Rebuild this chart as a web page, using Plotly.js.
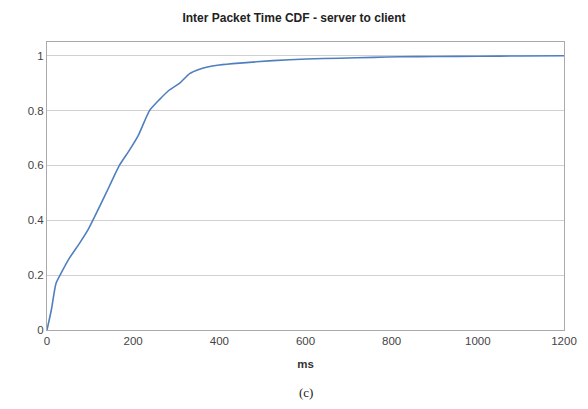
<!DOCTYPE html>
<html><head><meta charset="utf-8">
<script src="https://cdn.plot.ly/plotly-3.0.1.min.js"></script>
<style>html,body{margin:0;padding:0;background:#fff;}#chart{width:588px;height:409px;}</style>
</head><body><div id="chart"></div>
<script>
const chartTitle = "Inter Packet Time CDF - server to client";
const xTitle = "ms";
const caption = "(c)";
const msValues = [0, 10, 21, 33, 52, 75, 95, 122, 145, 168, 191, 212, 238, 261, 284, 308, 331, 354, 370, 400, 447, 524, 603, 680, 758, 819, 900, 1000, 1100, 1200];
const cdfValues = [0, 0.073, 0.17, 0.208, 0.262, 0.315, 0.365, 0.45, 0.525, 0.60, 0.655, 0.71, 0.80, 0.84, 0.875, 0.90, 0.935, 0.951, 0.958, 0.966, 0.973, 0.982, 0.988, 0.991, 0.994, 0.996, 0.997, 0.998, 0.999, 1.0];
const xTicks = [0, 200, 400, 600, 800, 1000, 1200];
const yTicks = [0, 0.2, 0.4, 0.6, 0.8, 1];

const trace = {
  x: msValues, y: cdfValues, type: 'scatter', mode: 'lines',
  line: {color: '#4f7fbf', width: 1.6, shape: 'spline', smoothing: 0.6}, hoverinfo: 'skip'
};
const layout = {
  width: 588, height: 409,
  margin: {l: 47, r: 24, t: 42, b: 79},
  paper_bgcolor: '#fff', plot_bgcolor: '#fff',
  showlegend: false,
  font: {family: 'Liberation Sans, Arial, sans-serif', size: 11, color: '#444'},
  title: {text: chartTitle, x: 0.5, xanchor: 'center', y: 0.957, yanchor: 'middle',
          font: {family: 'Liberation Sans, Arial, sans-serif', size: 12, color: '#222', weight: 'bold'}},
  xaxis: {
    range: [0, 1200], tickvals: xTicks, ticktext: xTicks.map(String),
    showgrid: false, zeroline: false, showline: true, mirror: true,
    linecolor: '#aaa', linewidth: 1, ticks: '', ticklen: 0,
    tickfont: {size: 11.5, color: '#444'},
    title: {text: xTitle, standoff: 14, font: {size: 11.5, color: '#333', weight: 'bold'}}
  },
  yaxis: {
    range: [0, 1.05], tickvals: yTicks, ticktext: yTicks.map(String),
    showgrid: true, gridcolor: '#d0d0d0', gridwidth: 1, zeroline: false,
    showline: true, mirror: true, linecolor: '#aaa', linewidth: 1,
    ticks: '', tickfont: {size: 11.5, color: '#444'}
  },
  annotations: [{
    text: caption, xref: 'paper', yref: 'paper', x: 0.5, y: -0.218, xanchor: 'center', yanchor: 'middle',
    showarrow: false, font: {family: 'Liberation Serif, Times New Roman, serif', size: 13, color: '#222'}
  }]
};
Plotly.newPlot('chart', [trace], layout, {displayModeBar: false, staticPlot: true});
</script></body></html>
